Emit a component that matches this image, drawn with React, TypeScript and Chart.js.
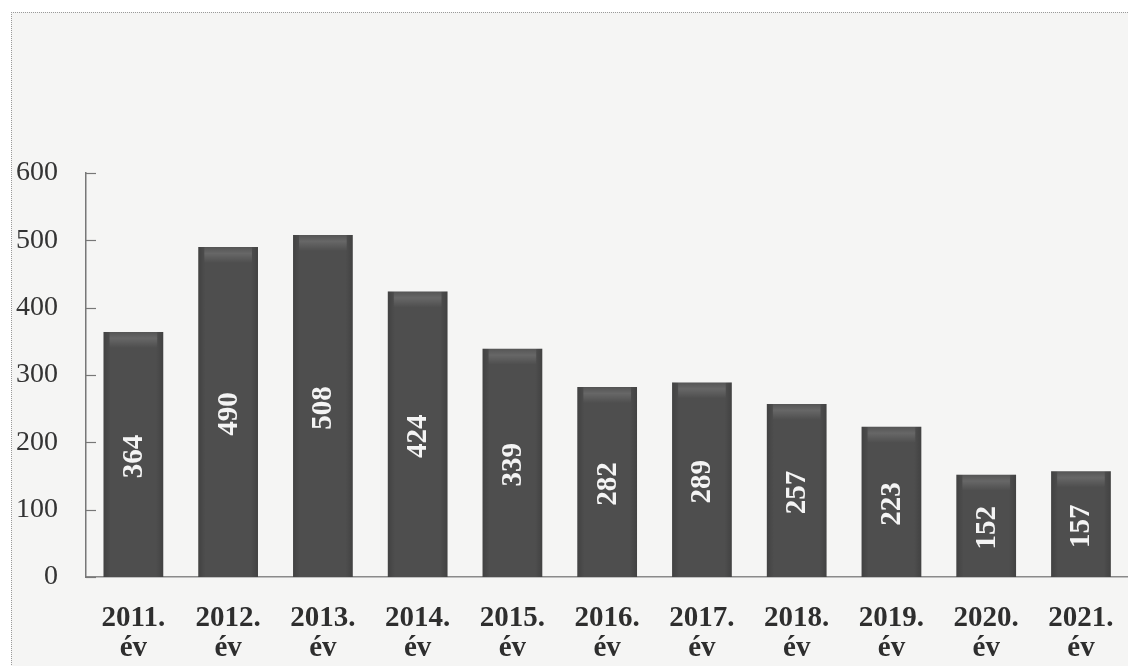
import React, { useEffect, useRef } from "react";
import { Chart, registerables } from "chart.js";

Chart.register(...registerables);

const categories: string[][] = [
  ["2011.", "év"], ["2012.", "év"], ["2013.", "év"], ["2014.", "év"], ["2015.", "év"],
  ["2016.", "év"], ["2017.", "év"], ["2018.", "év"], ["2019.", "év"], ["2020.", "év"], ["2021.", "év"],
];
const values: number[] = [364, 490, 508, 424, 339, 282, 289, 257, 223, 152, 157];
const yTicks: number[] = [0, 100, 200, 300, 400, 500, 600];

const SERIF = "'Liberation Serif', 'Times New Roman', serif";

const innerTicks = {
  id: "innerTicks",
  afterDraw(chart: any) {
    const { ctx, scales } = chart;
    const y = scales.y;
    const x0 = chart.chartArea.left;
    ctx.save();
    ctx.strokeStyle = "#777";
    ctx.lineWidth = 1.2;
    yTicks.forEach((v) => {
      const py = Math.round(y.getPixelForValue(v)) + 0.5;
      ctx.beginPath();
      ctx.moveTo(x0, py);
      ctx.lineTo(x0 + 10, py);
      ctx.stroke();
    });
    ctx.restore();
  },
};

const barDeco = {
  id: "barDeco",
  afterDatasetsDraw(chart: any) {
    const { ctx } = chart;
    const meta = chart.getDatasetMeta(0);
    ctx.save();
    meta.data.forEach((bar: any, i: number) => {
      const w = bar.width;
      const left = bar.x - w / 2;
      // top bevel highlight
      const g = ctx.createLinearGradient(0, bar.y, 0, bar.y + 16);
      g.addColorStop(0, "rgba(255,255,255,0.04)");
      g.addColorStop(0.4, "rgba(255,255,255,0.14)");
      g.addColorStop(1, "rgba(255,255,255,0)");
      ctx.fillStyle = g;
      ctx.fillRect(left + 6, bar.y, w - 12, 16);
      // side shading
      const gs = ctx.createLinearGradient(left, 0, left + w, 0);
      gs.addColorStop(0, "rgba(0,0,0,0.16)");
      gs.addColorStop(0.12, "rgba(0,0,0,0)");
      gs.addColorStop(0.88, "rgba(0,0,0,0)");
      gs.addColorStop(1, "rgba(0,0,0,0.16)");
      ctx.fillStyle = gs;
      ctx.fillRect(left, bar.y, w, bar.base - bar.y);
      // value label
      const cy = (bar.y + bar.base) / 2;
      ctx.save();
      ctx.translate(bar.x, cy);
      ctx.rotate(-Math.PI / 2);
      ctx.fillStyle = "#f4f4f4";
      ctx.font = `bold 29px ${SERIF}`;
      ctx.textAlign = "center";
      ctx.textBaseline = "middle";
      ctx.fillText(String(values[i]), -2, 1);
      ctx.restore();
    });
    ctx.restore();
  },
};

export default function App() {
  const ref = useRef<HTMLCanvasElement | null>(null);

  useEffect(() => {
    if (!ref.current) return;
    const chart = new Chart(ref.current, {
      type: "bar",
      data: {
        labels: categories,
        datasets: [
          {
            data: values,
            backgroundColor: "#4e4e4e",
            borderWidth: 0,
            barPercentage: 0.63,
            categoryPercentage: 1,
          },
        ],
      },
      options: {
        animation: false,
        responsive: false,
        layout: { padding: { top: 173, right: 9, left: 0, bottom: 0 } },
        plugins: { legend: { display: false }, tooltip: { enabled: false } },
        scales: {
          x: {
            grid: { display: false, drawTicks: false },
            border: { display: true, color: "#8a8a8a", width: 1.5 },
            ticks: {
              color: "#2e2e2e",
              font: { family: SERIF, size: 29, weight: "bold", lineHeight: 1.04 },
              padding: 26,
              maxRotation: 0,
              autoSkip: false,
            },
            afterFit: (s: any) => {
              s.height = 89;
            },
          },
          y: {
            min: 0,
            max: 600,
            grid: { display: false, drawTicks: false },
            border: { display: true, color: "#777", width: 1.5 },
            ticks: {
              stepSize: 100,
              color: "#333",
              font: { family: SERIF, size: 28 },
              padding: 28,
            },
            afterFit: (s: any) => {
              s.width = 86;
            },
          },
        },
      },
      plugins: [innerTicks, barDeco],
    });
    return () => chart.destroy();
  }, []);

  return (
    <div
      style={{
        position: "fixed",
        left: 0,
        top: 0,
        width: 1128,
        height: 666,
        overflow: "hidden",
        background: "#ffffff",
      }}
    >
      <div
        style={{
          position: "absolute",
          left: 11,
          top: 12,
          width: 1130,
          height: 670,
          background: "#f5f5f4",
          borderTop: "1px dotted #9a9a9a",
          borderLeft: "1px dotted #9a9a9a",
        }}
      />
      <canvas
        ref={ref}
        width={1140}
        height={666}
        style={{ position: "absolute", left: 0, top: 0, width: 1140, height: 666 }}
      />
    </div>
  );
}
